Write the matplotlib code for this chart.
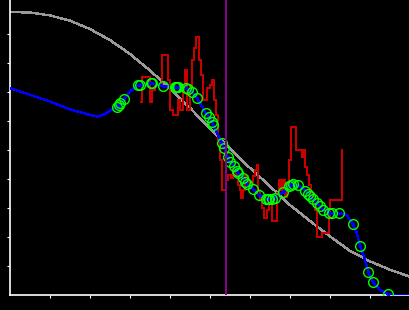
import matplotlib
matplotlib.use("Agg")
import matplotlib.pyplot as plt

# gray reference curve
gray_x = [0, 0.5, 1, 1.5, 2, 2.5, 3, 3.5, 4, 4.5, 5, 5.5, 6, 6.5, 7, 7.5, 8, 8.5, 9, 9.5, 10]
gray_y = [9.76, 9.74, 9.64, 9.46, 9.17, 8.79, 8.31, 7.74, 7.12, 6.45, 5.75, 5.05, 4.38, 3.75, 3.10, 2.55, 2.02, 1.52, 1.16, 0.87, 0.63]

# sample points (green circles)
pts_x = [2.68, 2.72, 2.76, 2.85, 3.21, 3.24, 3.52, 3.56, 3.83, 4.12, 4.15, 4.18, 4.20,
         4.40, 4.45, 4.54, 4.68, 4.90, 4.98, 5.04, 5.08, 5.29, 5.35, 5.44, 5.50, 5.60,
         5.68, 5.71, 5.83, 5.88, 5.93, 6.08, 6.23, 6.40, 6.44, 6.48, 6.54, 6.63, 6.82,
         6.98, 7.02, 7.08, 7.21, 7.38, 7.44, 7.50, 7.58, 7.67, 7.75, 7.83, 7.98, 8.04,
         8.23, 8.57, 8.75, 8.96, 9.08, 9.46]
pts_y = [6.49, 6.55, 6.61, 6.76, 7.24, 7.25, 7.30, 7.30, 7.20, 7.17, 7.17, 7.17, 7.16,
         7.13, 7.11, 7.01, 6.78, 6.26, 6.13, 5.98, 5.85, 5.25, 5.07, 4.77, 4.60, 4.45,
         4.27, 4.22, 4.02, 3.91, 3.82, 3.65, 3.44, 3.32, 3.31, 3.30, 3.30, 3.36, 3.54,
         3.76, 3.80, 3.83, 3.79, 3.60, 3.50, 3.42, 3.30, 3.16, 3.07, 2.93, 2.84, 2.83,
         2.82, 2.45, 1.70, 0.78, 0.44, 0.02]

# extra points of the blue fit outside / between the samples
fit_extra_x = [0, 0.5, 1.0, 1.5, 2.0, 2.2, 2.4, 2.6, 3.0, 8.42, 8.67, 8.85, 9.25, 9.6, 10]
fit_extra_y = [7.13, 6.90, 6.67, 6.40, 6.21, 6.15, 6.26, 6.45, 7.02, 2.76, 2.13, 1.32, 0.17, 0.0, 0.0]

# noisy measurement (red steps)
red_x = [3.275, 3.29, 3.50, 3.55, 3.625, 3.80, 3.95, 4.00, 4.075, 4.20, 4.25, 4.325, 4.375,
         4.425, 4.50, 4.55, 4.60, 4.65, 4.725, 4.775, 4.825, 4.925, 5.00, 5.05, 5.10, 5.15,
         5.20, 5.25, 5.30, 5.40, 5.45, 5.525, 5.575, 5.65, 5.70, 5.75, 5.775, 5.825, 5.875,
         5.95, 6.075, 6.125, 6.175, 6.20, 6.25, 6.30, 6.35, 6.425, 6.475, 6.525, 6.55,
         6.675, 6.725, 6.775, 6.825, 6.875, 6.925, 6.975, 7.025, 7.15, 7.30, 7.325, 7.375,
         7.425, 7.475, 7.525, 7.575, 7.625, 7.675, 7.80, 7.975, 8.00, 8.29]
red_y = [6.66, 7.52, 6.66, 7.07, 7.24, 8.28, 7.41, 6.38, 6.21, 6.72, 6.38, 7.24, 7.76,
         6.38, 7.24, 8.10, 8.52, 8.90, 8.10, 7.59, 6.72, 7.14, 7.24, 7.41, 6.72, 6.21,
         5.34, 4.66, 3.62, 3.97, 4.14, 4.03, 4.38, 4.14, 3.79, 3.62, 3.34, 3.62, 4.10,
         3.86, 4.10, 4.31, 4.48, 3.62, 3.28, 3.00, 2.66, 2.93, 3.28, 3.45, 2.55,
         3.52, 3.97, 3.62, 3.97, 3.38, 3.79, 4.66, 5.79, 5.00, 4.76, 5.00, 4.41,
         4.14, 3.79, 3.52, 3.28, 2.93, 2.00, 2.14, 2.69, 3.28, 5.00]

marker_x = 5.41

plt.rcParams['lines.antialiased'] = False

fit = sorted(zip(fit_extra_x + pts_x, fit_extra_y + pts_y))
fit_x = [p[0] for p in fit]
fit_y = [p[1] for p in fit]

fig = plt.figure(figsize=(4.1, 3.1), dpi=100, facecolor='black')
ax = fig.add_axes([10 / 410, 15 / 310, 400 / 410, 295 / 310])
ax.set_facecolor('black')

ax.plot(gray_x, gray_y, color='#9a9a9a', lw=1.0, zorder=1)
ax.plot(red_x, red_y, color='#c80000', lw=1.1, drawstyle='steps-post', zorder=2)
ax.plot(fit_x, fit_y, color='#0000ff', lw=1.0, zorder=3)
ax.plot(pts_x, pts_y, 'o', color='#0000ff', ms=1.6, zorder=4)
ax.plot(pts_x, pts_y, 'o', mfc='none', mec='#00ff00', mew=1.0, ms=7, zorder=5)
ax.axvline(marker_x, color='#8b008b', lw=1.2, zorder=6)

ax.set_xlim(0, 10)
ax.set_ylim(0, 295 / 29)
ax.set_xticks(range(1, 10))
ax.set_yticks(range(1, 10))
ax.set_xticklabels([])
ax.set_yticklabels([])
ax.tick_params(colors='white', length=2.5, width=0.8, direction='out')
for side in ['top', 'right']:
    ax.spines[side].set_visible(False)
for side in ['left', 'bottom']:
    ax.spines[side].set_color('white')
    ax.spines[side].set_linewidth(1.2)

fig.savefig('out.png', dpi=100, facecolor='black')
